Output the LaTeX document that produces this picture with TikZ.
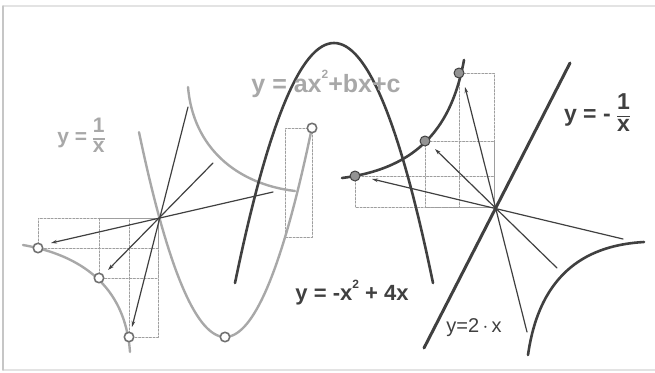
\documentclass[tikz,border=0pt]{standalone}
\usepackage{fontspec}
\setmainfont{Liberation Sans}
\usetikzlibrary{arrows.meta}

\definecolor{inkdark}{gray}{0.25}
\definecolor{inklight}{gray}{0.66}
\definecolor{dashgray}{gray}{0.62}

\newcommand{\tinysup}[1]{\raisebox{0.55em}{\fontsize{12}{12}\selectfont #1}}
\newcommand{\vfrac}[2]{{\renewcommand{\arraystretch}{0.62}\setlength{\arrayrulewidth}{1.4pt}%
  \begin{tabular}{@{}c@{}}#1\\[1pt]\hline\noalign{\vskip 2pt}#2\end{tabular}}}

\tikzset{
  darkcurve/.style={draw=inkdark, line width=2.6pt},
  lightcurve/.style={draw=inklight, line width=2.4pt},
  ray/.style={draw=inkdark, line width=1.2pt},
  rayarrow/.style={ray, -{Stealth[length=6pt,width=3.6pt]}},
  guide/.style={draw=dashgray, line width=1pt, dash pattern=on 2pt off 1.6pt},
  hollowdot/.style={circle, draw=inkdark!75, fill=white, line width=1.6pt, minimum size=9.5pt, inner sep=0pt},
  soliddot/.style={circle, draw=inkdark, fill=gray!85, line width=1pt, minimum size=10pt, inner sep=0pt},
  graylabel/.style={text=inklight, font=\bfseries},
  darklabel/.style={text=inkdark, font=\bfseries},
}

\begin{document}
\begin{tikzpicture}[x=1pt, y=-1pt, line cap=round, line join=round]

  %% ════ 外框 ════
  \draw[gray!22, line width=1.6pt] (3,370) -- (656,370);
  \draw[gray!22, line width=1.2pt] (3,6) -- (656,6);
  \draw[gray!45, line width=1.2pt] (3,6) -- (3,370);

  %% ════ 左组：点与中心 ════
  \coordinate (lc) at (158,218);
  \coordinate (pa) at (312,128);
  \coordinate (pv) at (225,337);
  \coordinate (la) at (38,248);
  \coordinate (lb) at (99,278);
  \coordinate (ld) at (129,337);

  %% 虚线框
  \draw[guide] (la) rectangle (lc);
  \draw[guide] (lb) rectangle (lc);
  \draw[guide] (ld) rectangle (lc);
  \draw[guide] (pa) rectangle (285,237);

  %% 灰色曲线：y=1/x 两支 + 抛物线
  \draw[lightcurve] (23,245) .. controls (80,255) and (125,285) .. (130,352);
  \draw[lightcurve] (188,87) .. controls (193,147) and (236,184) .. (295,191);
  \draw[lightcurve] plot[domain=139:312, samples=70] (\x, {337-0.0277*(\x-225)^2});

  %% 射线
  \coordinate (l1s) at (273,192); \coordinate (l1e) at (51,243);
  \coordinate (l2s) at (213,163); \coordinate (l2e) at (108,270);
  \coordinate (l3s) at (188,107); \coordinate (l3e) at (132,327);
  \draw[rayarrow] (l1s) -- (l1e);
  \draw[rayarrow] (l2s) -- (l2e);
  \draw[rayarrow] (l3s) -- (l3e);

  %% ════ 右组 ════
  \coordinate (rc) at (494,207);
  \coordinate (ra) at (355,176);
  \coordinate (rb) at (425,141);
  \coordinate (rd) at (459,73);

  \draw[guide] (ra) rectangle (rc);
  \draw[guide] (rb) rectangle (rc);
  \draw[guide] (rd) rectangle (rc);

  %% 深色：y=-x^2+4x、y=2x、y=-1/x
  \draw[darkcurve] (235,283) .. controls (301,-37) and (367,-37) .. (433,283);
  \coordinate (ls) at (424,348); \coordinate (le) at (570,63);
  \draw[darkcurve, line width=3pt] (ls) -- (le);
  \draw[darkcurve] (342,178) .. controls (420,168) and (452,125) .. (464,60);
  \draw[darkcurve] (528,355) .. controls (540,270) and (590,245) .. (644,242);

  \coordinate (r1s) at (623,239); \coordinate (r1e) at (372,179);
  \coordinate (r2s) at (557,268); \coordinate (r2e) at (435,149);
  \coordinate (r3s) at (527,332); \coordinate (r3e) at (465,87);
  \draw[rayarrow] (r1s) -- (r1e);
  \draw[rayarrow] (r2s) -- (r2e);
  \draw[rayarrow] (r3s) -- (r3e);

  %% ════ 圆点 ════
  \node[hollowdot] (dla) at (la) {};
  \node[hollowdot] (dlb) at (lb) {};
  \node[hollowdot] (dld) at (ld) {};
  \node[hollowdot] (dpa) at (pa) {};
  \node[hollowdot] (dpv) at (pv) {};
  \node[soliddot] (dra) at (ra) {};
  \node[soliddot] (drb) at (rb) {};
  \node[soliddot] (drd) at (rd) {};

  %% ════ 标签 ════
  \node[graylabel, font=\bfseries\fontsize{25}{28}\selectfont] (tgen) at (326,84) {y = ax\tinysup{2}+bx+c};
  \node[graylabel, font=\bfseries\fontsize{21}{25}\selectfont] (tinv) at (81,138) {y = \vfrac{1}{x}};
  \node[darklabel, font=\bfseries\fontsize{23}{27}\selectfont] (tneg) at (597,115) {y = - \vfrac{1}{x}};
  \node[darklabel, font=\bfseries\fontsize{22}{26}\selectfont] (tpar) at (352,293) {y = -x\tinysup{2} + 4x};
  \node[text=inkdark, font=\fontsize{20}{24}\selectfont] (tlin) at (474,328) {y=2\,$\cdot$\,x};

  % 钉死画布
  \pgfresetboundingbox
  \path[use as bounding box] (0,0) rectangle (655,372);
\end{tikzpicture}
\end{document}
